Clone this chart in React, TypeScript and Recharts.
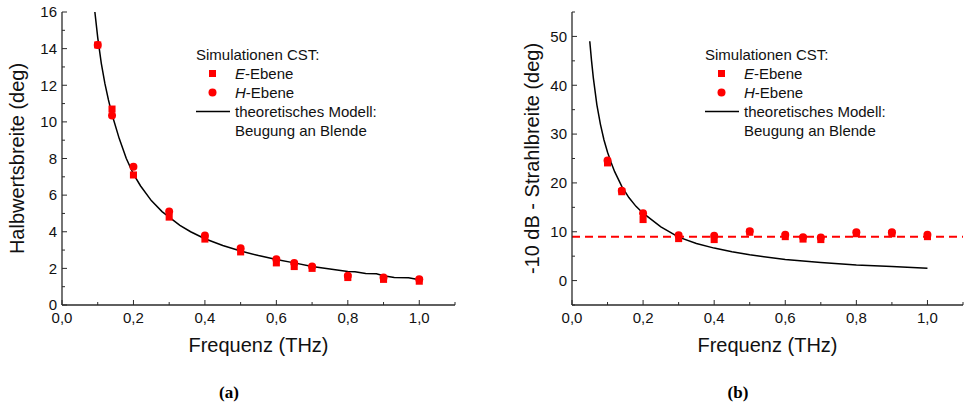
import React from "react";
import {
  ComposedChart, Line, Scatter, XAxis, YAxis, ZAxis, ReferenceLine, Label
} from "recharts";

// simulated frequencies (THz)
const freqs = [0.1, 0.14, 0.2, 0.3, 0.4, 0.5, 0.6, 0.65, 0.7, 0.8, 0.9, 1.0];

// (a) Halbwertsbreite (deg)
const halfE = [14.2, 10.7, 7.1, 4.8, 3.6, 2.9, 2.3, 2.1, 2.0, 1.5, 1.4, 1.3];
const halfH = [14.2, 10.35, 7.55, 5.1, 3.8, 3.1, 2.5, 2.3, 2.1, 1.6, 1.5, 1.4];
const halfModelF = [0.092, 0.1, 0.11, 0.12, 0.13, 0.14, 0.16, 0.18, 0.2, 0.22, 0.25, 0.28, 0.3, 0.33, 0.36, 0.4, 0.45, 0.5, 0.55, 0.6, 0.65, 0.7, 0.75, 0.8, 0.82, 0.85, 0.88, 0.9, 0.93, 0.97, 1.0];
const halfModelV = [16.0, 14.6, 13.2, 12.1, 11.2, 10.4, 9.1, 8.0, 7.15, 6.5, 5.7, 5.1, 4.8, 4.35, 4.0, 3.62, 3.25, 2.95, 2.7, 2.48, 2.3, 2.1, 1.97, 1.83, 1.82, 1.72, 1.7, 1.6, 1.5, 1.49, 1.38];

// (b) -10 dB Strahlbreite (deg)
const beamE = [24.1, 18.2, 12.5, 8.6, 8.4, 9.9, 9.0, 8.5, 8.4, 9.6, 9.6, 9.0];
const beamH = [24.6, 18.4, 13.8, 9.3, 9.2, 10.1, 9.4, 8.9, 8.8, 9.9, 9.9, 9.4];
const beamModelF = [0.05, 0.055, 0.06, 0.07, 0.08, 0.09, 0.1, 0.11, 0.12, 0.14, 0.16, 0.18, 0.2, 0.25, 0.3, 0.35, 0.4, 0.45, 0.5, 0.6, 0.7, 0.8, 0.9, 1.0];
const beamModelV = [49, 45, 41.5, 36, 32, 28.8, 26.3, 24.2, 22.3, 19.3, 17.0, 15.2, 13.8, 11.0, 8.9, 7.6, 6.65, 5.9, 5.3, 4.3, 3.7, 3.2, 2.9, 2.55];
const beamLimit = 9;

// ticks
const xTicks = [0, 0.1, 0.2, 0.3, 0.4, 0.5, 0.6, 0.7, 0.8, 0.9, 1.0, 1.1];
const halfTicks = [0, 1, 2, 3, 4, 5, 6, 7, 8, 9, 10, 11, 12, 13, 14, 15, 16];
const beamTicks = [-5, 0, 5, 10, 15, 20, 25, 30, 35, 40, 45, 50, 55];

const FONT = "'Liberation Sans', Arial, sans-serif";
const RED = "#ff0000";
const AXIS = "#2a2a2a";

const pts = (f: number[], v: number[]) => f.map((x, i) => ({ f: x, v: v[i] }));

const fmtX = (v: number) => v.toFixed(1).replace(".", ",");

function makeTick(side: string, isMajor: (v: number) => boolean, showLabel: boolean, fmt?: (v: number) => string) {
  return (props: any) => {
    const { x, y, payload } = props;
    const v = payload.value;
    const major = isMajor(v);
    const len = major ? 5 : 3;
    let line;
    let text = null;
    if (side === "bottom") {
      line = <line x1={x} y1={y} x2={x} y2={y - len} stroke={AXIS} strokeWidth={1} />;
      if (showLabel && major && v <= 1.0001)
        text = <text x={x} y={y + 18} textAnchor="middle" fontSize={15} fontFamily={FONT} fill="#111">{fmt ? fmt(v) : v}</text>;
    } else if (side === "top") {
      line = <line x1={x} y1={y} x2={x} y2={y + len} stroke={AXIS} strokeWidth={1} />;
    } else if (side === "left") {
      line = <line x1={x} y1={y} x2={x + len} y2={y} stroke={AXIS} strokeWidth={1} />;
      if (showLabel && major)
        text = <text x={x - 5} y={y + 5.3} textAnchor="end" fontSize={15} fontFamily={FONT} fill="#111">{fmt ? fmt(v) : v}</text>;
    } else {
      line = <line x1={x} y1={y} x2={x - len} y2={y} stroke={AXIS} strokeWidth={1} />;
    }
    return <g>{line}{text}</g>;
  };
}

const xMajor = (v: number) => Math.round(v * 10) % 2 === 0;

function LegendBox({ left }: { left: number }) {
  const row: React.CSSProperties = { height: 19, display: "flex", alignItems: "center" };
  return (
    <div style={{ position: "absolute", left, top: 45, fontFamily: FONT, fontSize: 15, color: "#111", lineHeight: "19px" }}>
      <div style={row}>Simulationen CST:</div>
      <div style={row}>
        <svg width={39} height={19}><rect x={13} y={6} width={7} height={7} fill={RED} /></svg>
        <span><i>E</i>-Ebene</span>
      </div>
      <div style={row}>
        <svg width={39} height={19}><circle cx={16.5} cy={9.5} r={4} fill={RED} /></svg>
        <span><i>H</i>-Ebene</span>
      </div>
      <div style={row}>
        <svg width={39} height={19}><line x1={-1} y1={9.5} x2={34} y2={9.5} stroke="#000" strokeWidth={1.5} /></svg>
        <span>theoretisches Modell:</span>
      </div>
      <div style={row}>
        <span style={{ marginLeft: 39 }}>Beugung an Blende</span>
      </div>
    </div>
  );
}

interface PanelProps {
  width: number;
  yAxisWidth: number;
  marginRight: number;
  yLabel: string;
  yLabelOffset: number;
  yDomain: number[];
  yTicks: number[];
  yMajor: (v: number) => boolean;
  eData: { f: number; v: number }[];
  hData: { f: number; v: number }[];
  model: { f: number; v: number }[];
  limit?: number;
}

function Panel(p: PanelProps) {
  return (
    <ComposedChart
      width={p.width}
      height={406}
      margin={{ top: 12, right: p.marginRight, bottom: 41, left: 0 }}
      style={{ fontFamily: FONT }}
    >
      <XAxis xAxisId="b" dataKey="f" type="number" domain={[0, 1.1]} ticks={xTicks} interval={0}
        allowDataOverflow height={60} tickSize={0} tickMargin={0} tickLine={false}
        axisLine={{ stroke: AXIS, strokeWidth: 1.3 }} tick={makeTick("bottom", xMajor, true, fmtX)}>
        <Label value="Frequenz (THz)" position="insideTop" offset={33} fontSize={20} fill="#111" fontFamily={FONT} />
      </XAxis>
      <XAxis xAxisId="t" orientation="top" dataKey="f" type="number" domain={[0, 1.1]} ticks={xTicks} interval={0}
        allowDataOverflow height={0} tickSize={0} tickMargin={0} tickLine={false}
        axisLine={{ stroke: AXIS, strokeWidth: 1.3 }} tick={makeTick("top", xMajor, false)} />
      <YAxis yAxisId="l" dataKey="v" type="number" domain={p.yDomain} ticks={p.yTicks} interval={0}
        allowDataOverflow width={p.yAxisWidth} tickSize={0} tickMargin={0} tickLine={false}
        axisLine={{ stroke: AXIS, strokeWidth: 1.3 }} tick={makeTick("left", p.yMajor, true)}>
        <Label value={p.yLabel} angle={-90} position="insideLeft" offset={p.yLabelOffset}
          fontSize={20} fill="#111" fontFamily={FONT} style={{ textAnchor: "middle" }} />
      </YAxis>
      <YAxis yAxisId="r" orientation="right" dataKey="v" type="number" domain={p.yDomain} ticks={p.yTicks} interval={0}
        allowDataOverflow width={0} tickSize={0} tickMargin={0} tickLine={false}
        axisLine={{ stroke: AXIS, strokeWidth: 1.3 }} tick={makeTick("right", p.yMajor, false)} />
      <ZAxis range={[50, 50]} />
      {p.limit !== undefined && (
        <ReferenceLine xAxisId="b" yAxisId="l" y={p.limit} stroke={RED} strokeWidth={2} strokeDasharray="8 5" />
      )}
      <Line xAxisId="b" yAxisId="l" data={p.model} dataKey="v" type="linear" dot={false}
        stroke="#000" strokeWidth={1.5} isAnimationActive={false} />
      <Scatter xAxisId="b" yAxisId="l" data={p.eData} dataKey="v" shape="square" fill={RED} isAnimationActive={false} />
      <Scatter xAxisId="b" yAxisId="l" data={p.hData} dataKey="v" shape="circle" fill={RED} isAnimationActive={false} />
    </ComposedChart>
  );
}

export default function App() {
  return (
    <div style={{ position: "absolute", left: 0, top: 0, width: 965, height: 406, background: "#fff", overflow: "hidden" }}>
      <div style={{ position: "absolute", left: 0, top: 0 }}>
        <Panel width={490} yAxisWidth={62} marginRight={35} yLabel="Halbwertsbreite (deg)" yLabelOffset={17}
          yDomain={[0, 16]} yTicks={halfTicks} yMajor={(v) => v % 2 === 0}
          eData={pts(freqs, halfE)} hData={pts(freqs, halfH)} model={pts(halfModelF, halfModelV)} />
        <LegendBox left={196} />
      </div>
      <div style={{ position: "absolute", left: 490, top: 0 }}>
        <Panel width={475} yAxisWidth={82} marginRight={2} yLabel="-10 dB - Strahlbreite (deg)" yLabelOffset={42}
          yDomain={[-5, 55]} yTicks={beamTicks} yMajor={(v) => v % 10 === 0}
          eData={pts(freqs, beamE)} hData={pts(freqs, beamH)} model={pts(beamModelF, beamModelV)} limit={beamLimit} />
        <LegendBox left={215} />
      </div>
      <div style={{ position: "absolute", left: 199, top: 383, width: 60, textAlign: "center", fontFamily: "'Liberation Serif', 'Times New Roman', serif", fontWeight: "bold", fontSize: 17 }}>(a)</div>
      <div style={{ position: "absolute", left: 708, top: 383, width: 60, textAlign: "center", fontFamily: "'Liberation Serif', 'Times New Roman', serif", fontWeight: "bold", fontSize: 17 }}>(b)</div>
    </div>
  );
}
